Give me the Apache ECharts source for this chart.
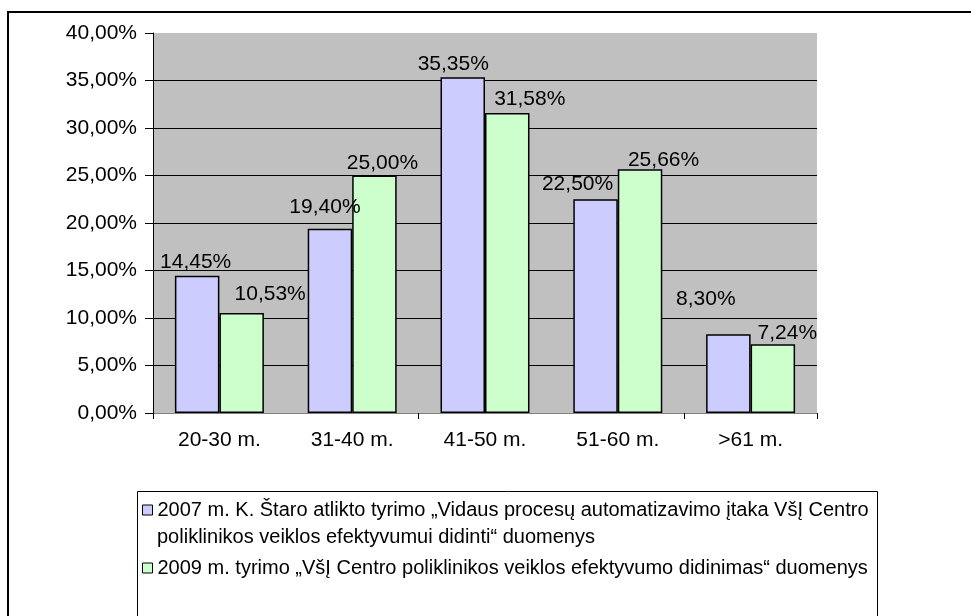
<!DOCTYPE html>
<html>
<head>
<meta charset="utf-8">
<script src="https://cdn.jsdelivr.net/npm/echarts@6/dist/echarts.min.js"></script>
<style>
  html, body { margin: 0; padding: 0; background: #fff; }
  #main { width: 971px; height: 616px; }
</style>
</head>
<body>
<div id="main"></div>
<script>
// duomenys
var categories = ['20-30 m.', '31-40 m.', '41-50 m.', '51-60 m.', '>61 m.'];
var series2007 = [14.45, 19.40, 35.35, 22.50, 8.30];
var series2009 = [10.53, 25.00, 31.58, 25.66, 7.24];
var name2007 = '2007 m. K. Štaro atlikto tyrimo „Vidaus procesų automatizavimo įtaka VšĮ Centro poliklinikos veiklos efektyvumui didinti“ duomenys';
var name2009 = '2009 m. tyrimo „VšĮ Centro poliklinikos veiklos efektyvumo didinimas“ duomenys';

var font = '"Liberation Sans", Arial, sans-serif';

// label nudges like the old Excel chart (px, relative to the bar top)
var nudge2007 = [[-1.5, -1], [-5, -9], [-9.5, 0], [-18, -2.5], [-22.5, -22.5]];
var nudge2009 = [[28.5, -6], [8, 0], [22.5, -1], [23.5, 3], [14.5, 1]];

// the long legend entry wraps onto a second line
var cut = name2007.indexOf(' poliklinikos');
var legendLine1 = name2007.slice(0, cut);
var legendLine2 = name2007.slice(cut + 1);

function pct(v) {
    return v.toFixed(2).replace('.', ',') + '%';
}

function barData(values, nudge) {
    return values.map(function (v, i) {
        return { value: v, label: { offset: nudge[i] } };
    });
}

var myChart = echarts.init(document.getElementById('main'));
var option = {
    animation: false,
    textStyle: { fontFamily: font },
    graphic: [
        // outer frame
        { type: 'rect', shape: { x: 8, y: 12, width: 1000, height: 700 },
          style: { fill: 'none', stroke: '#000', lineWidth: 2 }, z: -1 },
        // legend frame
        { type: 'rect', shape: { x: 137.5, y: 491.5, width: 740, height: 200 },
          style: { fill: '#fff', stroke: '#000', lineWidth: 1 }, z: -1 },
        { type: 'text', left: 157, top: 527,
          style: { text: legendLine2, font: '20px ' + font, fill: '#000' } }
    ],
    grid: {
        left: 153, right: 154, top: 33, bottom: 203,
        show: true, backgroundColor: '#C0C0C0', borderWidth: 0
    },
    legend: {
        orient: 'vertical',
        left: 142,
        top: 496.5,
        padding: 0,
        itemGap: 31,
        itemWidth: 10,
        itemHeight: 10,
        icon: 'rect',
        itemStyle: { borderColor: '#000', borderWidth: 1 },
        textStyle: { fontFamily: font, fontSize: 20, color: '#000', lineHeight: 27 },
        formatter: function (name) {
            return name === name2007 ? legendLine1 : name;
        },
        data: [name2007, name2009]
    },
    xAxis: {
        type: 'category',
        data: categories,
        axisLine: { lineStyle: { color: '#808080', width: 1 } },
        axisTick: { show: true, interval: 1, length: 6, lineStyle: { color: '#000' } },
        axisLabel: { color: '#000', fontSize: 21, margin: 17, fontFamily: font }
    },
    yAxis: {
        type: 'value',
        min: 0,
        max: 40,
        interval: 5,
        axisLine: { show: true, lineStyle: { color: '#000', width: 1 } },
        axisTick: { show: true, length: 8, lineStyle: { color: '#000' } },
        axisLabel: {
            color: '#000', fontSize: 21, margin: 16, fontFamily: font,
            formatter: function (v) { return pct(v); }
        },
        splitLine: { show: true, showMaxLine: false, showMinLine: false, lineStyle: { color: '#000', width: 1 } }
    },
    series: [
        {
            name: name2007,
            type: 'bar',
            barGap: '0%',
            barCategoryGap: '33%',
            data: barData(series2007, nudge2007),
            itemStyle: { color: '#CCCCFF', borderColor: '#000', borderWidth: 1.5 },
            label: {
                show: true, position: 'top', distance: 2,
                color: '#000', fontSize: 21, fontFamily: font,
                formatter: function (p) { return pct(p.value); }
            }
        },
        {
            name: name2009,
            type: 'bar',
            data: barData(series2009, nudge2009),
            itemStyle: { color: '#CCFFCC', borderColor: '#000', borderWidth: 1.5 },
            label: {
                show: true, position: 'top', distance: 2,
                color: '#000', fontSize: 21, fontFamily: font,
                formatter: function (p) { return pct(p.value); }
            }
        }
    ]
};
myChart.setOption(option);
</script>
</body>
</html>
